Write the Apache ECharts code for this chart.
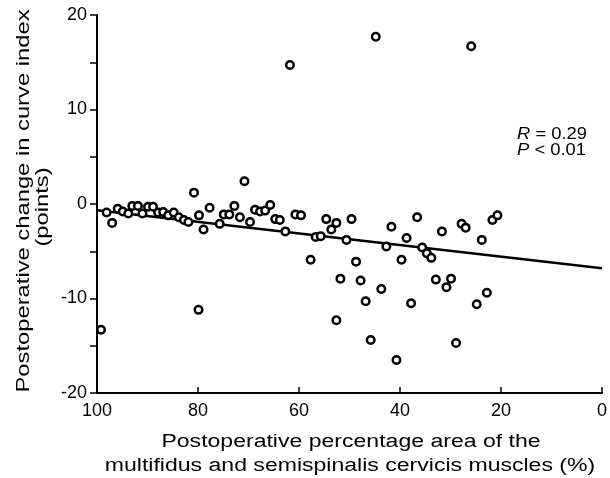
<!DOCTYPE html>
<html>
<head>
<meta charset="utf-8">
<script src="https://cdn.jsdelivr.net/npm/echarts@6/dist/echarts.min.js"></script>
<style>
  html, body { margin: 0; padding: 0; background: #fff; }
  #chart { width: 610px; height: 478px; }
</style>
</head>
<body>
<div id="chart"></div>
<script>
// percentage area (x) and change in curve index (y)
var areaPct = [99.2, 98.1, 97.0, 95.9, 94.9, 93.8, 93.0, 91.9, 91.0, 89.9,
  88.9, 87.9, 86.9, 85.9, 84.8, 83.8, 82.8, 81.9, 80.8, 79.8,
  78.9, 77.7, 75.7, 74.9, 73.8, 72.8, 71.7, 70.8, 69.7, 68.7,
  67.7, 66.7, 65.7, 64.7, 63.8, 62.7, 61.8, 60.7, 59.6, 57.7,
  56.7, 55.7, 54.6, 53.6, 52.6, 52.6, 51.8, 50.6, 49.6, 48.7,
  47.8, 46.8, 45.8, 44.8, 43.7, 42.7, 41.7, 40.7, 39.7, 38.7,
  37.8, 36.6, 35.6, 34.7, 33.8, 32.9, 31.7, 30.8, 29.9, 28.9,
  27.8, 27.0, 25.9, 24.8, 23.8, 22.8, 21.7, 20.7, 79.9];
var curveChange = [-13.3, -0.9, -2.0, -0.5, -0.8, -1.0, -0.2, -0.2, -1.0, -0.3,
  -0.3, -0.9, -0.85, -1.2, -0.9, -1.4, -1.7, -1.9, 1.2, -1.2,
  -2.7, -0.4, -2.1, -1.1, -1.1, -0.2, -1.4, 2.4, -1.9, -0.6,
  -0.8, -0.7, -0.1, -1.6, -1.7, -2.9, 14.7, -1.1, -1.2, -5.9,
  -3.5, -3.4, -1.6, -2.7, -2.0, -12.3, -7.9, -3.8, -1.6, -6.1,
  -8.1, -10.3, -14.4, 17.7, -9.0, -4.5, -2.4, -16.5, -5.9, -3.6,
  -10.5, -1.4, -4.6, -5.2, -5.7, -8.0, -2.9, -8.8, -7.9, -14.7,
  -2.1, -2.5, 16.7, -10.6, -3.8, -9.4, -1.7, -1.2, -11.2];

// regression line end points
var fitX = [100, 0];
var fitY = [-0.65, -6.8];

var xTicks = [100, 80, 60, 40, 20, 0];
var yTicks = [20, 10, 0, -10, -20];

var FONT = 'Liberation Sans, Arial, sans-serif';

var points = areaPct.map(function (x, i) { return [x, curveChange[i]]; });
var fitLine = fitX.map(function (x, i) { return [x, fitY[i]]; });

var chart = echarts.init(document.getElementById('chart'));

// the scanned lettering is a bit wider than it is tall
var titleStyle = function (txt) {
  return {
    text: txt,
    font: '18px ' + FONT,
    fill: '#000',
    textAlign: 'center',
    textVerticalAlign: 'middle'
  };
};

var option = {
  animation: false,
  backgroundColor: '#fff',
  grid: { left: 97, right: 6, top: 15, bottom: 85 },
  xAxis: {
    type: 'value',
    inverse: true,
    min: 0,
    max: 100,
    interval: 20,
    axisLine: { onZero: false, lineStyle: { color: '#000', width: 2 } },
    axisTick: { inside: true, length: 6, lineStyle: { color: '#000', width: 1.5 } },
    axisLabel: {
      color: '#000', fontSize: 18, fontFamily: FONT, margin: 9,
      formatter: function (v) { return xTicks.indexOf(v) >= 0 ? String(v) : ''; }
    },
    splitLine: { show: false }
  },
  yAxis: {
    type: 'value',
    position: 'left',
    min: -20,
    max: 20,
    interval: 5,
    axisLine: { onZero: false, lineStyle: { color: '#000', width: 2 } },
    axisTick: { length: 7, lineStyle: { color: '#000', width: 1.5 } },
    axisLabel: {
      color: '#000', fontSize: 18, fontFamily: FONT, margin: 10,
      formatter: function (v) { return yTicks.indexOf(v) >= 0 ? String(v) : ''; }
    },
    splitLine: { show: false }
  },
  graphic: [{
    type: 'text',
    x: 24, y: 201,
    rotation: Math.PI / 2,
    scaleX: 1.32,
    style: titleStyle('Postoperative change in curve index')
  }, {
    type: 'text',
    x: 43, y: 207,
    rotation: Math.PI / 2,
    scaleX: 1.32,
    style: titleStyle('(points)')
  }, {
    type: 'text',
    x: 351, y: 442,
    scaleX: 1.28,
    style: titleStyle('Postoperative percentage area of the')
  }, {
    type: 'text',
    x: 350, y: 466,
    scaleX: 1.28,
    style: titleStyle('multifidus and semispinalis cervicis muscles (%)')
  }, {
    type: 'text',
    x: 517, y: 135,
    scaleX: 1.15,
    style: {
      text: '{i|R} = 0.29',
      rich: { i: { fontStyle: 'italic', fontSize: 16, fontFamily: FONT, fill: '#000' } },
      font: '16px ' + FONT, fill: '#000', textVerticalAlign: 'middle'
    }
  }, {
    type: 'text',
    x: 517, y: 151,
    scaleX: 1.15,
    style: {
      text: '{i|P} < 0.01',
      rich: { i: { fontStyle: 'italic', fontSize: 16, fontFamily: FONT, fill: '#000' } },
      font: '16px ' + FONT, fill: '#000', textVerticalAlign: 'middle'
    }
  }],
  series: [{
    type: 'line',
    data: fitLine,
    symbol: 'none',
    lineStyle: { color: '#000', width: 2.5 },
    z: 2
  }, {
    type: 'scatter',
    data: points,
    symbol: 'circle',
    symbolSize: 7.5,
    itemStyle: { color: '#fff', borderColor: '#000', borderWidth: 2.5, opacity: 1 },
    z: 3
  }]
};

chart.setOption(option);
</script>
</body>
</html>
